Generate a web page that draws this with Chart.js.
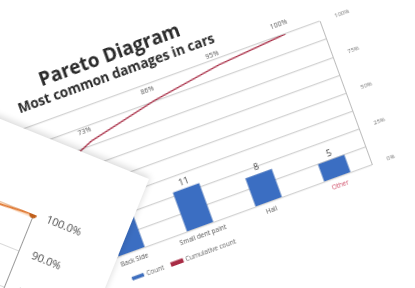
<!DOCTYPE html>
<html>
<head>
<meta charset="utf-8">
<script src="https://cdn.jsdelivr.net/npm/chart.js@4.4.0/dist/chart.umd.min.js"></script>
<style>
  html, body { margin: 0; padding: 0; width: 415px; height: 288px; overflow: hidden; background: #fff; }
  #mainWrap {
    position: absolute; left: -97px; top: -47px; width: 522px; height: 250px;
    transform-origin: 470px 215px; transform: rotate(-20deg);
    filter: blur(0.7px); background: #fff;
  }
  #cardWrap {
    position: absolute; left: -271px; top: 179px; width: 420px; height: 520px;
    transform-origin: 420px 0; transform: rotate(22deg);
    background: #fff; box-shadow: 0 -2px 7px rgba(0, 0, 0, 0.16);
    filter: blur(0.6px);
  }
</style>
</head>
<body>
<div id="mainWrap"><canvas id="paretoChart" width="522" height="250"></canvas></div>
<div id="cardWrap"><canvas id="cardChart" width="420" height="520"></canvas></div>
<script>
// main pareto chart (first bar is hidden)
const categories = ['Scratches', 'Back Side', 'Small dent paint', 'Hail', 'Other'];
const counts = [36, 13, 11, 8, 5];
const cumulativePct = [49, 73, 86, 95, 100];
const labelColors = ['#555', '#555', '#555', '#555', '#d0506a'];

// second chart lying on top (only its upper right corner shows)
const cardCategories = ['Motor', 'Brakes', 'Tyres', 'Lights', 'Glass', 'Doors', 'Seats', 'Misc'];
const cardPct = [38.5, 61.0, 75.4, 85.2, 91.8, 96.1, 99.0, 100.0];
const cardTarget = [100, 100, 100, 100, 100, 100, 100, 100];

const FONT = '"Open Sans", "Liberation Sans", sans-serif';

// value labels above bars and line points
const valueLabels = {
    id: 'valueLabels',
    afterDatasetsDraw(chart) {
        const ctx = chart.ctx;
        chart.data.datasets.forEach((ds, i) => {
            if (!ds.showValues) return;
            const meta = chart.getDatasetMeta(i);
            meta.data.forEach((el, j) => {
                ctx.save();
                ctx.textAlign = 'center';
                ctx.textBaseline = 'bottom';
                if (ds.type === 'bar') {
                    ctx.font = '9px ' + FONT;
                    ctx.fillStyle = '#404040';
                    ctx.fillText(ds.data[j], el.x, el.y - 2);
                } else {
                    ctx.font = '7px ' + FONT;
                    ctx.fillStyle = '#5a5a5a';
                    ctx.fillText(ds.data[j] + '%', el.x - 3, el.y - 8);
                }
                ctx.restore();
            });
        });
    }
};

new Chart(document.getElementById('paretoChart').getContext('2d'), {
    data: {
        labels: categories,
        datasets: [{
            type: 'bar',
            label: 'Count',
            data: counts,
            yAxisID: 'yCount',
            backgroundColor: '#3b6ec2',
            borderColor: '#2c5aa5',
            borderWidth: 0.5,
            categoryPercentage: 1,
            barPercentage: 0.39,
            order: 1,
            showValues: true
        }, {
            type: 'line',
            label: 'Cumulative count',
            data: cumulativePct,
            yAxisID: 'yLine',
            borderColor: '#a82c45',
            backgroundColor: '#a82c45',
            borderWidth: 1.3,
            pointRadius: 0,
            tension: 0,
            order: 0,
            showValues: true
        }]
    },
    options: {
        responsive: false,
        animation: false,
        layout: { padding: 0 },
        plugins: {
            title: {
                display: true,
                text: 'Pareto Diagram',
                color: '#2a2a2a',
                font: { family: FONT, size: 19, weight: 'bold' },
                padding: { top: 8, bottom: 0 }
            },
            subtitle: {
                display: true,
                text: 'Most common damages in cars',
                color: '#2a2a2a',
                font: { family: FONT, size: 13.5, weight: 'bold' },
                padding: { top: 0, bottom: 12 }
            },
            legend: {
                position: 'bottom',
                labels: {
                    boxWidth: 12,
                    boxHeight: 3,
                    padding: 8,
                    color: '#666',
                    font: { family: FONT, size: 6.5 },
                    sort: (a, b) => a.datasetIndex - b.datasetIndex
                }
            },
            tooltip: { enabled: false }
        },
        scales: {
            x: {
                grid: { display: false, drawTicks: false },
                border: { display: false },
                ticks: {
                    autoSkip: false,
                    maxRotation: 0,
                    padding: 5,
                    font: { family: FONT, size: 6.5 },
                    color: labelColors
                },
                afterFit: (s) => { s.height = 14; }
            },
            yCount: {
                position: 'left',
                min: 0,
                max: 40,
                ticks: { stepSize: 5, font: { family: FONT, size: 6 }, color: '#777' },
                grid: { color: '#d2d2d2', lineWidth: 1.2, drawTicks: false },
                border: { display: false },
                afterFit: (s) => { s.width = 105; }
            },
            yPct: {
                position: 'right',
                min: 0,
                max: 100,
                ticks: {
                    stepSize: 25,
                    padding: 8,
                    font: { family: FONT, size: 6 },
                    color: '#777',
                    callback: (v) => v + '%'
                },
                grid: { display: false },
                border: { color: '#bdbdbd' },
                afterFit: (s) => { s.width = 52; }
            },
            // the photographed line sits higher than its axis; hidden axis for it
            yLine: {
                display: false,
                min: -20,
                max: 100
            }
        }
    },
    plugins: [valueLabels]
});

new Chart(document.getElementById('cardChart').getContext('2d'), {
    type: 'line',
    data: {
        labels: cardCategories,
        datasets: [{
            label: 'Cumulative %',
            data: cardPct,
            yAxisID: 'yPct',
            borderColor: '#e07a36',
            borderWidth: 1.8,
            pointRadius: 3,
            pointBackgroundColor: '#c0601c',
            pointBorderColor: '#c0601c',
            tension: 0,
            order: 0
        }, {
            label: 'Target',
            data: cardTarget,
            yAxisID: 'yPct',
            borderColor: 'rgba(246, 186, 135, 0.55)',
            borderWidth: 7,
            pointRadius: 0,
            order: 2
        }]
    },
    options: {
        responsive: false,
        animation: false,
        layout: { padding: { top: 76, left: 20 } },
        plugins: { legend: { display: false }, tooltip: { enabled: false } },
        scales: {
            x: {
                grid: { display: false },
                border: { display: false },
                ticks: { font: { family: FONT, size: 10 }, color: '#595959' },
                afterFit: (s) => { s.height = 54; }
            },
            yPct: {
                position: 'right',
                min: 0,
                max: 100,
                ticks: {
                    stepSize: 10,
                    padding: 14,
                    font: { family: FONT, size: 11 },
                    color: '#4a4a4a',
                    callback: (v) => v.toFixed(1) + '%'
                },
                grid: { color: '#d9d9d9', drawTicks: false },
                border: { color: '#9a9a9a' },
                afterFit: (s) => { s.width = 94; }
            }
        }
    }
});
</script>
</body>
</html>
